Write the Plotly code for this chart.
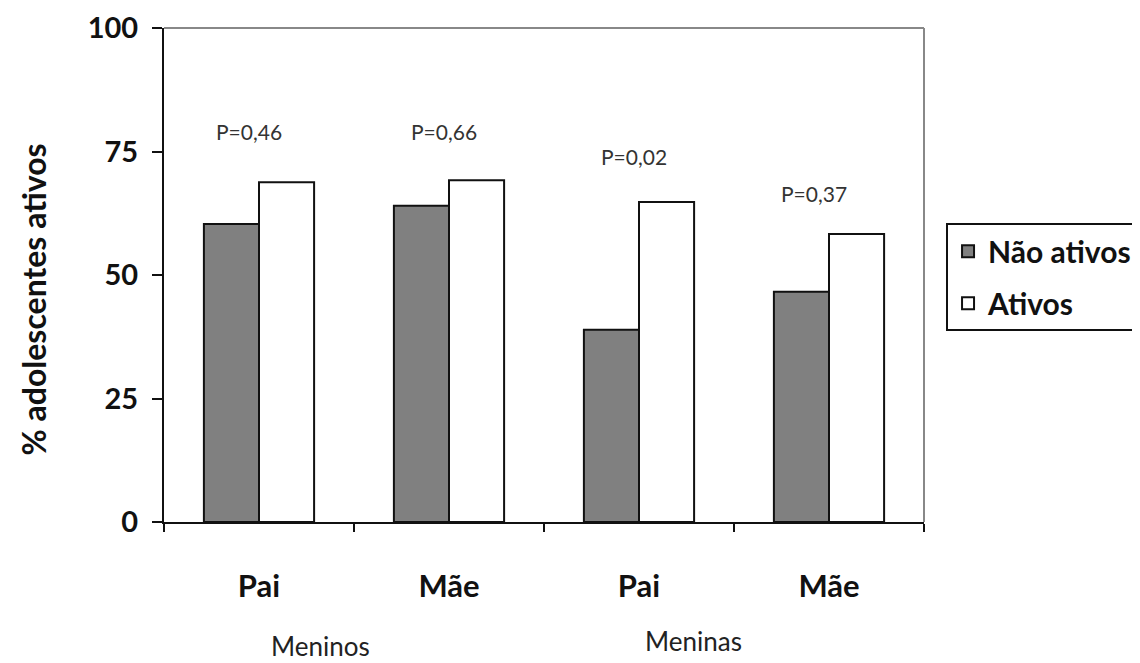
import plotly.graph_objects as go

categories = ["Pai", "Mãe", "Pai", "Mãe"]
nao_ativos = [60.3, 64.0, 38.9, 46.6]
ativos = [68.8, 69.2, 64.8, 58.3]
p_labels = ["P=0,46", "P=0,66", "P=0,02", "P=0,37"]
p_heights = [79.0, 79.0, 74.0, 66.5]
groups = ["Meninos", "Meninas"]
y_ticks = [0, 25, 50, 75, 100]

FONT = "Lato"
xpos = list(range(len(categories)))

fig = go.Figure()
fig.add_trace(go.Bar(x=xpos, y=nao_ativos, name="Não ativos", legendgroup="a",
                     marker=dict(color="#808080", line=dict(color="#111111", width=2))))
fig.add_trace(go.Bar(x=xpos, y=ativos, name="Ativos", legendgroup="b",
                     marker=dict(color="#ffffff", line=dict(color="#111111", width=2))))

for i, (lab, h) in enumerate(zip(p_labels, p_heights)):
    shift = [-10, -5, -5, -15][i]
    fig.add_annotation(x=xpos[i], y=h, text=lab, showarrow=False, xshift=shift,
                       xanchor="center", yanchor="middle",
                       font=dict(family=FONT, size=21, color="#333"))

fig.add_annotation(xref="paper", yref="paper", x=0.206, y=-0.252, text=groups[0],
                   xanchor="center", yanchor="middle",
                   showarrow=False, font=dict(family=FONT, size=26, color="#222"))
fig.add_annotation(xref="paper", yref="paper", x=0.697, y=-0.240, text=groups[1],
                   xanchor="center", yanchor="middle",
                   showarrow=False, font=dict(family=FONT, size=26, color="#222"))
fig.add_annotation(xref="paper", yref="paper", x=-0.172, y=0.451, text="<b>% adolescentes ativos</b>",
                   xanchor="center", yanchor="middle",
                   textangle=-90, showarrow=False, font=dict(family=FONT, size=32, color="#111"))

fig.update_layout(
    width=1140, height=663,
    margin=dict(l=156, r=224, t=20, b=149, autoexpand=False),
    paper_bgcolor="white", plot_bgcolor="white",
    barmode="group", bargap=0.42, bargroupgap=0,
    font=dict(family=FONT, color="#111"),
    showlegend=True,
    legend=dict(x=1.029, y=0.605, xanchor="left", yanchor="top",
                bordercolor="#111", borderwidth=2, tracegroupgap=10,
                entrywidth=210,
                font=dict(family=FONT, size=30, color="#111", weight="bold"),
                itemsizing="constant"),
    xaxis=dict(range=[-0.5, len(categories) - 0.5], tickvals=xpos, ticktext=[f"<b>{c}</b>" for c in categories],
               ticks="", showgrid=False, zeroline=False, automargin=False,
               showline=True, linecolor="#111", linewidth=2, mirror=False,
               tickfont=dict(family=FONT, size=31, color="#111"),
               ticklabelstandoff=36,
               minor=dict(tickvals=[x - 0.5 for x in xpos] + [len(categories) - 0.5],
                          ticks="outside", ticklen=8, tickcolor="#111", tickwidth=2)),
    yaxis=dict(range=[0, 100], tickvals=y_ticks, ticktext=[f"<b>{v}</b>" for v in y_ticks],
               ticks="outside", ticklen=10, tickwidth=2, tickcolor="#111", automargin=False,
               showgrid=False, zeroline=False, showline=True, linecolor="#111", linewidth=2,
               tickfont=dict(family=FONT, size=29, color="#111"), ticklabelstandoff=8),
)
# gray plot-area frame on top and right
fig.add_shape(type="line", xref="paper", yref="paper", x0=0, x1=1, y0=1, y1=1,
              line=dict(color="#888", width=2))
fig.add_shape(type="line", xref="paper", yref="paper", x0=1, x1=1, y0=0, y1=1,
              line=dict(color="#888", width=2))

fig.write_html("out.html")
